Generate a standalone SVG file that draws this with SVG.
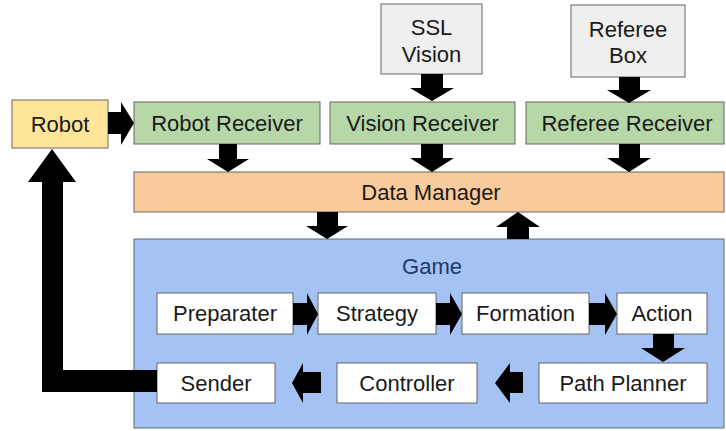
<svg xmlns="http://www.w3.org/2000/svg" width="726" height="431" viewBox="0 0 726 431">
<style>
.t{font-family:"Liberation Sans",Arial,sans-serif;font-size:22px;fill:#1a1a1a;text-anchor:middle}
.box{stroke:#666;stroke-width:1}
.w{fill:#ffffff}
.g{fill:#b6d7a8}
.gr{fill:#efefef}
.arr{fill:#000}
</style>
<rect width="726" height="431" fill="#ffffff"/>
<g id="game">
<rect class="box" x="134" y="239" width="590" height="189" fill="#a4c2f4"/>
<text class="t" x="432" y="274" style="fill:#1c3a6e">Game</text>
</g>
<g id="robot"><rect class="box" x="12" y="100" width="96" height="48" fill="#ffe599"/><text class="t" x="60" y="132">Robot</text></g>
<g id="ssl-vision"><rect class="box gr" x="381" y="4" width="101" height="70"/><text class="t" x="431.5" y="35">SSL</text><text class="t" x="431.5" y="62">Vision</text></g>
<g id="referee-box"><rect class="box gr" x="571" y="5" width="114" height="72"/><text class="t" x="628" y="37">Referee</text><text class="t" x="628" y="63">Box</text></g>
<g id="robot-receiver"><rect class="box g" x="134" y="102" width="186" height="42"/><text class="t" x="227" y="131">Robot Receiver</text></g>
<g id="vision-receiver"><rect class="box g" x="330" y="102" width="185" height="42"/><text class="t" x="422.5" y="131">Vision Receiver</text></g>
<g id="referee-receiver"><rect class="box g" x="526" y="102" width="198" height="42"/><text class="t" x="627" y="131">Referee Receiver</text></g>
<g id="data-manager"><rect class="box" x="134" y="172" width="590" height="40" fill="#f9cb9c"/><text class="t" x="431" y="200">Data Manager</text></g>
<g id="preparater"><rect class="box w" x="157" y="293" width="136" height="41"/><text class="t" x="225" y="321">Preparater</text></g>
<g id="strategy"><rect class="box w" x="318" y="293" width="118" height="41"/><text class="t" x="377" y="321">Strategy</text></g>
<g id="formation"><rect class="box w" x="462" y="293" width="127" height="41"/><text class="t" x="525.5" y="321">Formation</text></g>
<g id="action"><rect class="box w" x="617" y="293" width="90" height="41"/><text class="t" x="662" y="321">Action</text></g>
<g id="sender"><rect class="box w" x="157" y="363" width="118" height="40"/><text class="t" x="216" y="391">Sender</text></g>
<g id="controller"><rect class="box w" x="337" y="363" width="140" height="40"/><text class="t" x="407" y="391">Controller</text></g>
<g id="path-planner"><rect class="box w" x="539" y="363" width="168" height="40"/><text class="t" x="623" y="391">Path Planner</text></g>
<g id="connectors" class="arr">
<polygon points="108,112 121,112 121,102 134,123 121,145 121,134 108,134"/>
<polygon points="219,144 237,144 237,159 249,159 228,172 207,159 219,159"/>
<polygon points="421,74 443,74 443,88 454,88 432,101 410,88 421,88"/>
<polygon points="421,144 443,144 443,158 454,158 432,172 410,158 421,158"/>
<polygon points="619,77 640,77 640,90 651,90 629,103 607,90 619,90"/>
<polygon points="619,144 640,144 640,158 651,158 629,172 607,158 619,158"/>
<polygon points="317,212 338,212 338,226 348,226 327,239 306,226 317,226"/>
<polygon points="507,239 529,239 529,227 540,227 518,212 496,227 507,227"/>
<polygon points="293,303 307,303 307,293 318,314 307,335 307,325 293,325"/>
<polygon points="436,303 450,303 450,293 462,314 450,335 450,325 436,325"/>
<polygon points="589,303 605,303 605,293 617,314 605,335 605,325 589,325"/>
<polygon points="653,334 674,334 674,348 685,348 663,362 641,348 653,348"/>
<polygon points="523,372 510,372 510,363 495,383 510,403 510,393 523,393"/>
<polygon points="321,372 303,372 303,363 292,383 303,403 303,393 321,393"/>
<polygon points="157,370 63,370 63,182 76,182 52,149 28,182 42,182 42,392 157,392"/>
</g>
</svg>
